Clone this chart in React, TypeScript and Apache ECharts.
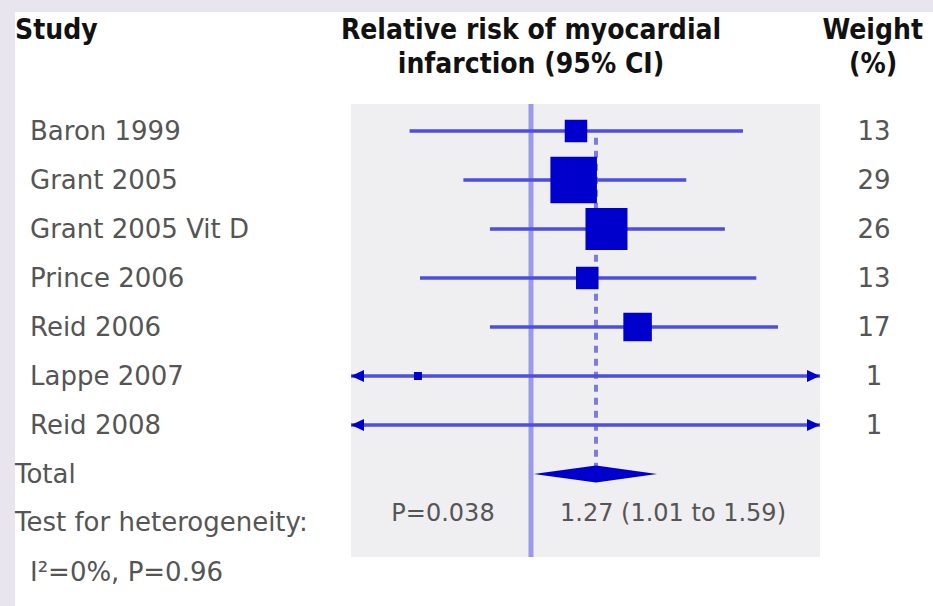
import React, { useEffect, useRef } from "react";
import * as echarts from "echarts";

// ---- data ----
const studies = [
  "Baron 1999",
  "Grant 2005",
  "Grant 2005 Vit D",
  "Prince 2006",
  "Reid 2006",
  "Lappe 2007",
  "Reid 2008",
];
// relative risk point estimates (null = not shown on scale)
const relRisk: (number | null)[] = [1.18, 1.17, 1.32, 1.23, 1.48, 0.66, null];
// 95% CI bounds (values beyond the axis are drawn as arrows)
const ciLower = [0.64, 0.78, 0.86, 0.665, 0.86, 0.3, 0.3];
const ciUpper = [2.18, 1.77, 2.04, 2.29, 2.48, 5.0, 5.0];
const weights = [13, 29, 26, 13, 17, 1, 1];

const pooledRR = 1.27;
const pooledLower = 1.01;
const pooledUpper = 1.59;
const pooledText = "1.27 (1.01 to 1.59)";
const overallP = "P=0.038";
const heterogeneityLabel = "Test for heterogeneity:";
const heterogeneityStat = "I²=0%, P=0.96";

// axis range (relative risk, log scale)
const X_MIN = 0.516;
const X_MAX = 2.894;
// row axis (row index, inverted)
const Y_MIN = -0.551;
const Y_MAX = 8.694;
const TOTAL_ROW = 7;

// ---- layout ----
const W = 933;
const H = 606;
const GRID_LEFT = 351;
const GRID_RIGHT = 820;
const GRID_TOP = 104;
const GRID_BOTTOM = 557;
const rowY = (r: number) =>
  GRID_TOP + ((r - Y_MIN) / (Y_MAX - Y_MIN)) * (GRID_BOTTOM - GRID_TOP);

const BODY_FONT = "'DejaVu Sans', sans-serif";
const HEAD_FONT = "'DejaVu Sans Condensed', 'Liberation Sans Narrow', 'DejaVu Sans', sans-serif";
const TEXT_GRAY = "#555555";

export default function App() {
  const ref = useRef<HTMLDivElement>(null);

  useEffect(() => {
    if (!ref.current) return;
    const chart = echarts.init(ref.current, undefined, { renderer: "svg" });

    const ciData = studies.map((_, i) => [ciLower[i], ciUpper[i], i]);
    const boxData = studies
      .map((_, i) => (relRisk[i] == null ? null : [relRisk[i], i, weights[i]]))
      .filter((d) => d != null);

    const headText = (text: string, x: number, y: number, align: string) => ({
      type: "text",
      x,
      y,
      style: {
        text,
        fill: "#111111",
        font: `bold 28px ${HEAD_FONT}`,
        align,
        verticalAlign: "middle",
      },
    });
    const bodyText = (text: string, x: number, y: number, align = "left", size = 26) => ({
      type: "text",
      x,
      y,
      style: {
        text,
        fill: TEXT_GRAY,
        font: `${size}px ${BODY_FONT}`,
        align,
        verticalAlign: "middle",
      },
    });

    const graphics: any[] = [
      { type: "rect", shape: { x: 0, y: 0, width: W, height: 12 }, style: { fill: "#e9e5ee" }, z: 0 },
      { type: "rect", shape: { x: 0, y: 0, width: 15, height: H }, style: { fill: "#e9e5ee" }, z: 0 },
      headText("Study", 15, 29, "left"),
      headText("Relative risk of myocardial", 531, 29, "center"),
      headText("infarction (95% CI)", 531, 63, "center"),
      headText("Weight", 923, 29, "right"),
      headText("(%)", 873, 63, "center"),
    ];
    studies.forEach((s, i) => {
      graphics.push(bodyText(s, 30, rowY(i)));
      graphics.push(bodyText(String(weights[i]), 874, rowY(i), "center"));
    });
    graphics.push(bodyText("Total", 15, rowY(TOTAL_ROW)));
    graphics.push(bodyText(heterogeneityLabel, 15, 522));
    graphics.push(bodyText(heterogeneityStat, 30, 572));
    graphics.push(bodyText(overallP, 443, 513, "center", 24));
    graphics.push(bodyText(pooledText, 673, 513, "center", 24));

    chart.setOption({
      animation: false,
      backgroundColor: "#ffffff",
      grid: {
        left: GRID_LEFT,
        top: GRID_TOP,
        width: GRID_RIGHT - GRID_LEFT,
        height: GRID_BOTTOM - GRID_TOP,
        show: true,
        backgroundColor: "#efeff1",
        borderWidth: 0,
      },
      xAxis: {
        type: "log",
        logBase: 10,
        min: X_MIN,
        max: X_MAX,
        axisLine: { show: false },
        axisTick: { show: false },
        axisLabel: { show: false },
        splitLine: { show: false },
      },
      yAxis: {
        type: "value",
        inverse: true,
        min: Y_MIN,
        max: Y_MAX,
        axisLine: { show: false },
        axisTick: { show: false },
        axisLabel: { show: false },
        splitLine: { show: false },
      },
      graphic: graphics,
      series: [
        {
          type: "line",
          data: [
            [1, Y_MIN],
            [1, Y_MAX],
          ],
          symbol: "none",
          lineStyle: { color: "#9a9aea", width: 5 },
          z: 1,
        },
        {
          type: "line",
          data: [
            [pooledRR, 0.14],
            [pooledRR, 6.84],
          ],
          symbol: "none",
          lineStyle: { color: "#7b7be2", width: 4, type: [7, 6] },
          z: 2,
        },
        {
          type: "custom",
          data: ciData,
          z: 3,
          renderItem: (params: any, api: any) => {
            const lo = api.value(0);
            const hi = api.value(1);
            const row = api.value(2);
            const p1 = api.coord([Math.max(lo, X_MIN), row]);
            const p2 = api.coord([Math.min(hi, X_MAX), row]);
            const children: any[] = [
              {
                type: "line",
                shape: { x1: p1[0], y1: p1[1], x2: p2[0], y2: p2[1] },
                style: { stroke: "#4d4de0", lineWidth: 3.5 },
              },
            ];
            if (lo < X_MIN) {
              children.push({
                type: "polygon",
                shape: {
                  points: [
                    [p1[0], p1[1]],
                    [p1[0] + 13, p1[1] - 6],
                    [p1[0] + 13, p1[1] + 6],
                  ],
                },
                style: { fill: "#0000cc" },
              });
            }
            if (hi > X_MAX) {
              children.push({
                type: "polygon",
                shape: {
                  points: [
                    [p2[0], p2[1]],
                    [p2[0] - 13, p2[1] - 6],
                    [p2[0] - 13, p2[1] + 6],
                  ],
                },
                style: { fill: "#0000cc" },
              });
            }
            return { type: "group", children };
          },
        },
        {
          type: "scatter",
          data: boxData,
          symbol: "rect",
          symbolSize: (v: number[]) => Math.max(8, 1.5 * v[2] + 3),
          itemStyle: { color: "#0000cc", opacity: 1 },
          z: 4,
        },
        {
          type: "custom",
          data: [[pooledLower, pooledRR, pooledUpper, TOTAL_ROW]],
          z: 4,
          renderItem: (params: any, api: any) => {
            const row = api.value(3);
            const l = api.coord([api.value(0), row]);
            const c = api.coord([api.value(1), row]);
            const r = api.coord([api.value(2), row]);
            const h = 8.5;
            return {
              type: "polygon",
              shape: {
                points: [
                  [l[0], l[1]],
                  [c[0], c[1] - h],
                  [r[0], r[1]],
                  [c[0], c[1] + h],
                ],
              },
              style: { fill: "#0000cc" },
            };
          },
        },
      ],
    });

    return () => chart.dispose();
  }, []);

  return (
    <div style={{ position: "fixed", left: 0, top: 0, width: W, height: H, background: "#fff" }}>
      <div ref={ref} style={{ width: W, height: H }} />
    </div>
  );
}
